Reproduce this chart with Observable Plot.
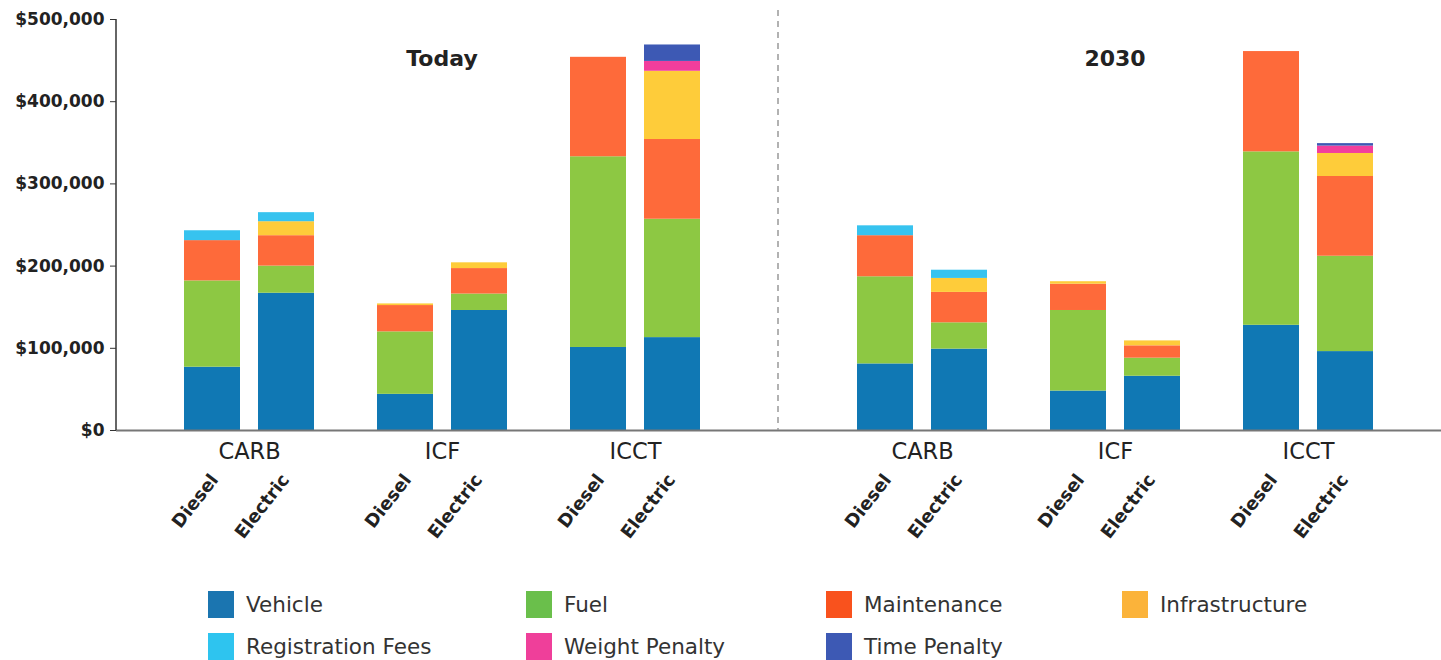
<!DOCTYPE html>
<html><head><meta charset="utf-8">
<script src="https://cdn.jsdelivr.net/npm/d3@7"></script>
<script src="https://cdn.jsdelivr.net/npm/@observablehq/plot@0.6"></script>
<style>
body{margin:0;background:#fff;overflow:hidden;font-family:"DejaVu Sans",sans-serif;}
#legend{display:grid;grid-template-columns:318px 300px 296px auto;row-gap:15px;padding:16px 0 0 208px;}
.item{display:flex;align-items:center;font-size:21.5px;color:#333;height:27px;white-space:nowrap}
.sw{width:26px;height:27px;margin-right:12px;flex:none}
</style></head><body><div id="chart"></div><div id="legend"></div>
<script>
const periods = ["Today", "2030"];
const agencies = ["CARB", "ICF", "ICCT"];
const types = ["Diesel", "Electric"];
const components = ["Vehicle", "Fuel", "Maintenance", "Infrastructure", "Registration Fees", "Weight Penalty", "Time Penalty"];
const colors = ["#1078b4", "#8dc843", "#fe6a3a", "#fecc3a", "#37c3ef", "#f23e9c", "#3d59b4"];
const legendColors = ["#1b75b0", "#6abf4b", "#f9521d", "#fbb33a", "#2ec4ef", "#ef3f9a", "#3d59b4"];
const yTicks = [0, 100000, 200000, 300000, 400000, 500000];

// values in $ thousands, bar order: Today CARB D/E, ICF D/E, ICCT D/E, 2030 CARB D/E, ICF D/E, ICCT D/E
const vehicle        = [77, 167, 44, 146, 101, 113,   81, 99, 48, 66, 128, 96];
const fuel           = [105, 33, 76, 20, 232, 144,    106, 32, 98, 22, 211, 116];
const maintenance    = [49, 37, 32, 31, 121, 97,      50, 37, 32, 15, 122, 97];
const infrastructure = [0, 17, 2, 7, 0, 83,           0, 17, 3, 6, 0, 28];
const registration   = [12, 11, 0, 0, 0, 0,           12, 10, 0, 0, 0, 0];
const weightPenalty  = [0, 0, 0, 0, 0, 12,            0, 0, 0, 0, 0, 9];
const timePenalty    = [0, 0, 0, 0, 0, 20,            0, 0, 0, 0, 0, 3];
const series = [vehicle, fuel, maintenance, infrastructure, registration, weightPenalty, timePenalty];

const bars = [];
periods.forEach(p => agencies.forEach(a => types.forEach(t => bars.push({period: p, agency: a, type: t}))));
const rows = [];
bars.forEach((b, i) => components.forEach((c, j) => rows.push({...b, component: c, value: series[j][i] * 1000})));

const font = "DejaVu Sans";
const chart = Plot.plot({
  width: 1441, height: 575,
  marginTop: 19, marginBottom: 145, marginLeft: 116, marginRight: 0,
  style: {fontFamily: font, color: "#222", background: "#fff"},
  fx: {domain: periods, paddingInner: 0.032, paddingOuter: 0, axis: null, label: null},
  x: {domain: agencies, paddingInner: 0.328, paddingOuter: 0.349, axis: null, label: null},
  y: {domain: [0, 500000], axis: null, label: null},
  color: {domain: components, range: colors},
  marks: [
    Plot.rectY(rows.filter(d => d.type === "Diesel"), Plot.stackY({x: "agency", y: "value", fill: "component", fx: "period", insetRight: 74})),
    Plot.rectY(rows.filter(d => d.type === "Electric"), Plot.stackY({x: "agency", y: "value", fill: "component", fx: "period", insetLeft: 74})),
    Plot.ruleY([0], {stroke: "#777", strokeWidth: 2, insetRight: -22}),
    Plot.axisY({ticks: yTicks, tickSize: 6, tickPadding: 6, tickFormat: d => "$" + d3.format(",")(d), fontSize: 17, fontWeight: "bold", fill: "#222", stroke: "#333", label: null}),
    Plot.axisX({tickSize: 0, tickPadding: 13, fontSize: 22.5, fill: "#222", label: null}),
    Plot.text(bars.filter(d => d.type === "Diesel"), {x: "agency", fx: "period", text: "type", frameAnchor: "bottom", dx: -35, dy: 46, rotate: -52, textAnchor: "end", lineAnchor: "middle", fontSize: 18, fontWeight: "bold", fill: "#222"}),
    Plot.text(bars.filter(d => d.type === "Electric"), {x: "agency", fx: "period", text: "type", frameAnchor: "bottom", dx: 36, dy: 46, rotate: -52, textAnchor: "end", lineAnchor: "middle", fontSize: 18, fontWeight: "bold", fill: "#222"}),
    Plot.text(periods, {fx: d => d, text: d => d, frameAnchor: "top", lineAnchor: "middle", dy: 39, fontSize: 22, fontWeight: "bold", fill: "#222"})
  ]
});
document.getElementById("chart").appendChild(chart);

// y axis line and period divider, derived from the plot's scales
const svg = d3.select(chart);
const yS = chart.scale("y");
const fxS = chart.scale("fx");
const y0 = yS.apply(0), yTop = yS.apply(500000);
svg.append("line").attr("x1", 116).attr("x2", 116).attr("y1", yTop).attr("y2", y0).attr("stroke", "#333").attr("stroke-width", 1.5);
if (fxS && fxS.apply) {
  const xDiv = (fxS.apply("Today") + fxS.bandwidth + fxS.apply("2030")) / 2;
  svg.append("line").attr("x1", xDiv).attr("x2", xDiv).attr("y1", yTop - 9).attr("y2", y0)
    .attr("stroke", "#999").attr("stroke-width", 1.5).attr("stroke-dasharray", "6,5");
}

const legend = d3.select("#legend");
components.forEach((c, i) => {
  const it = legend.append("div").attr("class", "item");
  it.append("div").attr("class", "sw").style("background", legendColors[i]);
  it.append("span").text(c);
});
</script></body></html>
